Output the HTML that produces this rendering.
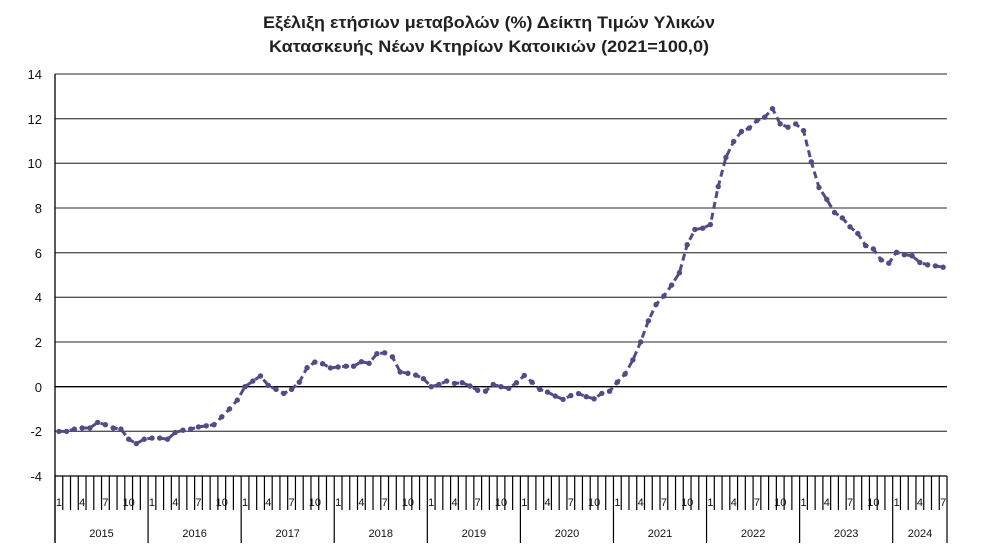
<!DOCTYPE html>
<html><head><meta charset="utf-8"><style>
body{margin:0;background:#fff}
svg{display:block;font-family:"Liberation Sans",sans-serif}
</style></head><body>
<svg id="s" width="983" height="554" xmlns="http://www.w3.org/2000/svg">
<text x="489" y="28" text-anchor="middle" font-size="17" font-weight="bold" fill="#222" textLength="452" lengthAdjust="spacingAndGlyphs">Εξέλιξη ετήσιων μεταβολών (%) Δείκτη Τιμών Υλικών</text>
<text x="489" y="52" text-anchor="middle" font-size="17" font-weight="bold" fill="#222" textLength="440" lengthAdjust="spacingAndGlyphs">Κατασκευής Νέων Κτηρίων Κατοικιών (2021=100,0)</text>
<g stroke="#555" stroke-width="1.3">
<line x1="55" x2="947" y1="74" y2="74"/><line x1="55" x2="947" y1="118.7" y2="118.7"/>
<line x1="55" x2="947" y1="163.3" y2="163.3"/><line x1="55" x2="947" y1="208" y2="208"/>
<line x1="55" x2="947" y1="252.7" y2="252.7"/><line x1="55" x2="947" y1="297.3" y2="297.3"/>
<line x1="55" x2="947" y1="342" y2="342"/><line x1="55" x2="947" y1="431.3" y2="431.3"/>
</g>
<g stroke="#000" stroke-width="1.3">
<line x1="55" x2="947" y1="386.7" y2="386.7"/>
<line x1="55" x2="947" y1="476" y2="476"/>
<line x1="55" x2="55" y1="74" y2="543"/>
</g>
<g font-size="13" text-anchor="end" fill="#111">
<text x="42" y="79">14</text><text x="42" y="124">12</text><text x="42" y="168">10</text>
<text x="42" y="213">8</text><text x="42" y="258">6</text><text x="42" y="302">4</text>
<text x="42" y="347">2</text><text x="42" y="392">0</text><text x="42" y="436">-2</text>
<text x="42" y="481">-4</text>
</g>
<g id="ticks" stroke="#000" stroke-width="1.2"></g>
<g font-size="11" text-anchor="middle" fill="#111">
<g transform="translate(0,0)"><text x="58.9" y="506">1</text><text x="82.2" y="506">4</text><text x="105.4" y="506">7</text><text x="128.7" y="506">10</text></g>
<g transform="translate(93.08,0)"><text x="58.9" y="506">1</text><text x="82.2" y="506">4</text><text x="105.4" y="506">7</text><text x="128.7" y="506">10</text></g>
<g transform="translate(186.17,0)"><text x="58.9" y="506">1</text><text x="82.2" y="506">4</text><text x="105.4" y="506">7</text><text x="128.7" y="506">10</text></g>
<g transform="translate(279.25,0)"><text x="58.9" y="506">1</text><text x="82.2" y="506">4</text><text x="105.4" y="506">7</text><text x="128.7" y="506">10</text></g>
<g transform="translate(372.33,0)"><text x="58.9" y="506">1</text><text x="82.2" y="506">4</text><text x="105.4" y="506">7</text><text x="128.7" y="506">10</text></g>
<g transform="translate(465.42,0)"><text x="58.9" y="506">1</text><text x="82.2" y="506">4</text><text x="105.4" y="506">7</text><text x="128.7" y="506">10</text></g>
<g transform="translate(558.5,0)"><text x="58.9" y="506">1</text><text x="82.2" y="506">4</text><text x="105.4" y="506">7</text><text x="128.7" y="506">10</text></g>
<g transform="translate(651.58,0)"><text x="58.9" y="506">1</text><text x="82.2" y="506">4</text><text x="105.4" y="506">7</text><text x="128.7" y="506">10</text></g>
<g transform="translate(744.67,0)"><text x="58.9" y="506">1</text><text x="82.2" y="506">4</text><text x="105.4" y="506">7</text><text x="128.7" y="506">10</text></g>
<g transform="translate(837.75,0)"><text x="58.9" y="506">1</text><text x="82.2" y="506">4</text><text x="105.4" y="506">7</text></g>
</g>
<g font-size="11" text-anchor="middle" fill="#111">
<text x="101.5" y="537">2015</text><text x="194.6" y="537">2016</text><text x="287.7" y="537">2017</text>
<text x="380.8" y="537">2018</text><text x="473.9" y="537">2019</text><text x="567" y="537">2020</text>
<text x="660" y="537">2021</text><text x="753.1" y="537">2022</text><text x="846.2" y="537">2023</text>
<text x="920" y="537">2024</text>
</g>
<g id="ser"></g>
</svg>
<script>
var d=[-2.0,-2.0,-1.9,-1.85,-1.85,-1.6,-1.7,-1.85,-1.9,-2.35,-2.55,-2.35,
-2.3,-2.3,-2.35,-2.05,-1.95,-1.9,-1.8,-1.75,-1.7,-1.35,-1.0,-0.6,
0.0,0.25,0.48,0.06,-0.12,-0.3,-0.12,0.2,0.85,1.1,1.03,0.84,0.88,0.92,0.92,1.12,1.05,1.48,1.52,1.34,0.66,0.6,0.52,0.36,0,0.1,0.25,0.15,0.18,0.03,-0.16,-0.2,0.1,0,-0.07,0.18,0.5,0.2,-0.12,-0.24,-0.42,-0.57,-0.4,-0.31,-0.45,-0.54,-0.3,-0.2,
0.2,0.57,1.2,2.0,2.95,3.68,4.06,4.55,5.1,6.36,7.04,7.1,7.26,8.96,10.27,10.98,11.43,11.58,11.92,12.07,12.45,11.77,11.62,11.77,11.47,10.07,8.92,8.39,7.8,7.56,7.16,6.86,6.32,6.17,5.68,5.53,6.02,5.91,5.86,5.56,5.46,5.41,5.35];
var w=892/115;
function X(i){return 55+w*(i+0.5)}function Y(v){return 386.7-v*22.33}
var t=document.getElementById("ticks"),h="";
for(var i=0;i<=115;i++){var x=55+w*i;var ye=(i%12==0||i==115);h+='<line x1="'+x+'" x2="'+x+'" y1="476" y2="'+(ye?543:510)+'"/>';}
t.innerHTML=h;
var p="",c="";
for(var i=0;i<d.length;i++){p+=(i?"L":"M")+X(i).toFixed(1)+" "+Y(d[i]).toFixed(1);c+='<circle cx="'+X(i).toFixed(1)+'" cy="'+Y(d[i]).toFixed(1)+'" r="2.7"/>';}
document.getElementById("ser").innerHTML='<path d="'+p+'" fill="none" stroke="#554a86" stroke-width="3" stroke-dasharray="7 4"/><g fill="#554a86">'+c+'</g>';
</script>
</body></html>
